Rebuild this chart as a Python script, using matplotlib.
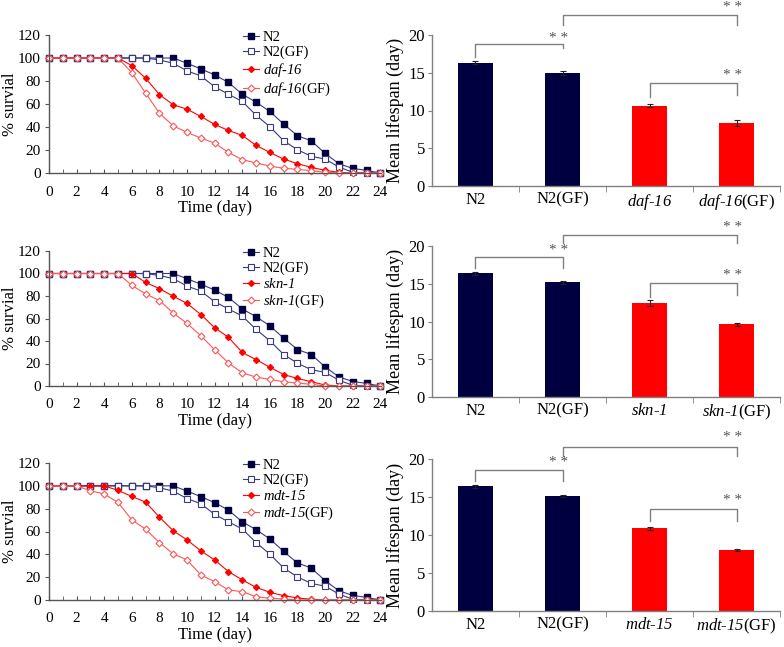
import matplotlib
matplotlib.use("Agg")
import matplotlib.pyplot as plt
import numpy as np

plt.rcParams['font.family'] = ['Liberation Serif', 'DejaVu Serif']
plt.rcParams['mathtext.fontset'] = 'custom'
plt.rcParams['mathtext.rm'] = 'Liberation Serif:italic'
plt.rcParams['mathtext.it'] = 'Liberation Serif:italic'

days = list(range(25))

n2 = [100, 100, 100, 100, 100, 100, 100, 100, 100, 100, 95.4, 90.5, 85.3, 78.7, 68.5,
      61.6, 53.5, 42.5, 32.4, 28, 17, 8.1, 4, 2.3, 0]
n2_gf = [100, 100, 100, 100, 100, 100, 100, 100, 98.3, 95.4, 88.8, 84.4, 74.9, 68.5, 62.2,
         50.3, 40.2, 28, 20.2, 14.5, 12.1, 5.2, 0.6, 0, 0]

daf16 = [100, 100, 100, 100, 100, 100, 93.4, 82.4, 68.2, 59.3, 55.5, 49.2, 42.2, 37, 32.7,
         24, 17.9, 12.1, 8.1, 4.9, 2.3, 0.6, 0, 0, 0]
daf16_gf = [100, 100, 100, 100, 100, 99.8, 87.3, 69.4, 52, 41, 35.3, 30.4, 26, 17.9, 11.6,
            8.7, 6.1, 4, 3.2, 2, 0.6, 0, 0, 0, 0]

skn1 = [100, 100, 100, 100, 100, 100, 100, 92.1, 86.5, 79.8, 73.4, 63.5, 51.8, 43.3, 29.8,
        23.4, 16.7, 10.2, 6.7, 3.8, 0.9, 0, 0, 0, 0]
skn1_gf = [100, 100, 100, 100, 100, 100, 89.5, 81.9, 76, 64.9, 55.6, 44.7, 32.2, 20.5, 11.7,
           7.9, 5.8, 3.8, 2.6, 1.5, 0, 0, 0, 0, 0]

mdt15 = [100, 100, 100, 100, 100, 96, 90.7, 85.7, 72.6, 60.6, 52.7, 43, 35.1, 24.9, 17.6,
         11.1, 6.7, 3.8, 1.8, 0.6, 0, 0, 0, 0, 0]
mdt15_gf = [100, 100, 100, 95.7, 92.8, 85.5, 70.2, 62, 50.3, 40.4, 35.1, 21.9, 16.1, 8.8, 7.3,
            2.9, 1.5, 0.9, 0, 0, 0, 0, 0, 0, 0]

mutant_names = ['daf-16', 'skn-1', 'mdt-15']
bar_means = [
    [16.35, 15.0, 10.6, 8.3],
    [16.4, 15.2, 12.45, 9.65],
    [16.4, 15.15, 10.9, 8.0],
]
bar_errs = [
    [0.2, 0.25, 0.2, 0.4],
    [0.2, 0.2, 0.4, 0.2],
    [0.15, 0.15, 0.2, 0.12],
]
# brackets: (left idx, right idx, top y, left leg bottom, right leg bottom, star y)
brackets = [
    [(0, 1, 18.8, 17.1, 18.3, 19.6), (1, 3, 22.65, 21.3, 21.3, 23.7), (2, 3, 13.6, 11.8, 12.0, 14.6)],
    [(0, 1, 18.5, 17.05, 17.05, 19.4), (1, 3, 21.45, 20.35, 20.35, 22.5), (2, 3, 15.07, 13.3, 13.5, 16.1)],
    [(0, 1, 18.5, 17.05, 17.05, 19.5), (1, 3, 21.6, 20.4, 20.4, 22.8), (2, 3, 13.4, 11.8, 11.8, 14.6)],
]
mutant_series = [(daf16, daf16_gf), (skn1, skn1_gf), (mdt15, mdt15_gf)]

W, H = 784, 647
fig = plt.figure(figsize=(W / 100, H / 100), dpi=100)

def fbox(x0, x1, ytop, ybot):
    return [x0 / W, 1 - ybot / H, (x1 - x0) / W, (ybot - ytop) / H]

left_boxes = [fbox(49, 381, 35, 173), fbox(49, 381, 251, 386), fbox(49, 381, 463, 600)]
right_boxes = [fbox(432, 780, 35, 186), fbox(432, 780, 246, 397), fbox(432, 780, 459, 611)]

navy_line = '#3a3a80'
navy = '#000040'
red = '#ff0000'
red_light = '#ff5555'
spine_c = '#555555'
gray = '#808080'

def it(name):
    parts = name.split('-')
    return '-'.join(r'$\mathrm{%s}$' % p for p in parts)

for i in range(3):
    mut, mut_gf = mutant_series[i]
    name = mutant_names[i]
    ax = fig.add_axes(left_boxes[i])
    ax.plot(days, n2, color=navy_line, lw=0.8, marker='s', ms=4, mfc=navy, mec=navy, label='N2')
    ax.plot(days, n2_gf, color=navy_line, lw=0.8, marker='s', ms=4.5, mfc='white', mec=navy_line, mew=0.8, label='N2(GF)')
    ax.plot(days, mut, color=red, lw=0.8, marker='D', ms=3, mfc=red, mec=red, label=it(name))
    ax.plot(days, mut_gf, color=red_light, lw=0.8, marker='D', ms=3.5, mfc='white', mec=red_light, mew=0.8, label=it(name) + '(GF)')
    ax.set_xlim(0, 24.05)
    ax.set_ylim(0, 120)
    ax.set_xticks(range(0, 25, 2))
    ax.set_xticks(range(0, 25), minor=True)
    ax.set_yticks(range(0, 121, 20))
    for s in ['top', 'right']:
        ax.spines[s].set_visible(False)
    for s in ['left', 'bottom']:
        ax.spines[s].set_color(spine_c)
        ax.spines[s].set_linewidth(1)
    ax.tick_params(axis='x', which='both', direction='in', length=3, color=spine_c, labelsize=11, pad=9)
    ax.tick_params(axis='y', direction='out', length=3, color=spine_c, labelsize=11, pad=3)
    ax.set_ylabel('% survial', fontsize=12, labelpad=0)
    ax.set_xlabel('Time (day)', fontsize=12, labelpad=1)
    ax.legend(loc='upper left', bbox_to_anchor=(0.585, 1.03), frameon=False, fontsize=10.5,
              handlelength=1.1, handletextpad=0.25, labelspacing=0.12, borderpad=0, borderaxespad=0)
    for ln in ax.lines:
        ln.set_clip_on(False)

    bx = fig.add_axes(right_boxes[i])
    cats = ['N2', 'N2(GF)', it(name), it(name) + '(GF)']
    x = np.arange(4)
    bx.bar(x, bar_means[i], width=0.4, color=[navy, navy, red, red], edgecolor='none')
    bx.errorbar(x, bar_means[i], yerr=bar_errs[i], fmt='none', ecolor='#222222', elinewidth=0.8, capsize=2, capthick=0.8)
    bx.set_xlim(-0.5, 3.5)
    bx.set_ylim(0, 20)
    bx.set_yticks(range(0, 21, 5))
    bx.set_xticks(x)
    bx.set_xticklabels(cats, fontsize=12)
    bx.set_xticks([0.5, 1.5, 2.5, 3.5], minor=True)
    bx.tick_params(axis='x', which='major', length=0, pad=4)
    bx.tick_params(axis='x', which='minor', length=4, direction='out', color=gray)
    bx.tick_params(axis='y', length=3, direction='out', color=gray, labelsize=12, pad=2)
    for s in ['top', 'right']:
        bx.spines[s].set_visible(False)
    for s in ['left', 'bottom']:
        bx.spines[s].set_color(gray)
        bx.spines[s].set_linewidth(1)
    bx.set_ylabel('Mean lifespan (day)', fontsize=13, labelpad=3)
    for (a, b, yt, yl, yr, ys) in brackets[i]:
        bx.plot([a, a, b, b], [yl, yt, yt, yr], color=gray, lw=1, clip_on=False)
        bx.text(b - 0.05, ys, '* *', ha='center', va='center', fontsize=11, color='#555555', clip_on=False)

fig.savefig('out.png', dpi=100)
